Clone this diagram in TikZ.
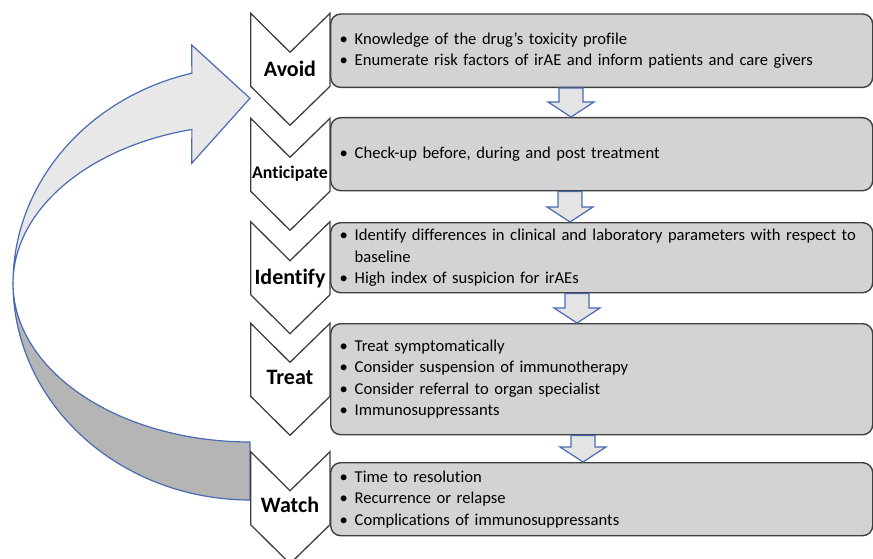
\documentclass[tikz,border=0pt]{standalone}
\usepackage{fontspec}
\setmainfont{Carlito}[Ligatures=NoCommon]
\usetikzlibrary{calc}
\definecolor{boxfill}{HTML}{D3D3D3}
\definecolor{boxline}{HTML}{3F3F3F}
\definecolor{arrline}{HTML}{4A6AB4}
\definecolor{arrfill}{HTML}{E4E4E4}
\definecolor{loopdark}{HTML}{B5B5B5}
\definecolor{looplight}{HTML}{E8E8E8}

% chevron with its label: name, top y, baseline offset, label
\newcommand\chevronstep[4]{%
  \draw[chev] (250.7,#2) -- (290,#2+39) -- (330,#2) -- (330,#2+73)
    -- (290,#2+112) -- (250.7,#2+73) -- cycle;
  \node[steplabel] (#1) at (290,#2+#3) {#4};}

% block arrow between two boxes: from, to, offset from the left edge
\newcommand\flowarrow[3]{%
  \coordinate (fa-s) at ($(#1.south west)+(#3,0)$);
  \coordinate (fa-t) at (fa-s |- #2.north);
  \draw[blockarr] ($(fa-s)+(-12,0)$) -- ($(fa-t)+(-12,-15)$)
    -- ($(fa-t)+(-23,-15)$) -- (fa-t) -- ($(fa-t)+(23,-15)$)
    -- ($(fa-t)+(12,-15)$) -- ($(fa-s)+(12,0)$) -- cycle;}

\newcommand\bul{\makebox[15pt][l]{•}}

\begin{document}
\begin{tikzpicture}[x=1pt,y=-1pt,
  stepbox/.style={draw=boxline, line width=1.4pt, fill=boxfill,
    rounded corners=10pt, anchor=north west, text width=524pt,
    inner xsep=9pt, inner ysep=0pt, align=left,
    font=\fontsize{16.6}{21.5}\selectfont},
  chev/.style={draw=boxline, line width=1.3pt, fill=white, line join=miter},
  steplabel/.style={font=\bfseries\fontsize{22}{24}\selectfont,
    inner sep=0pt, anchor=base},
  blockarr/.style={draw=arrline, line width=1.2pt, fill=arrfill, line join=miter},
  loopband/.style={draw=arrline, line width=1.2pt, line join=miter}]

\useasboundingbox (0,0) rectangle (873,559);

% return loop: back face
\draw[loopband, fill=loopdark]
  plot[domain=180:270, samples=60] ({250+237*cos(\x)},{283.3-216.7*sin(\x)})
  -- (250,442)
  -- plot[domain=270:180, samples=60] ({250+237*cos(\x)},{283.3-158.7*sin(\x)})
  -- cycle;
% return loop: front face with arrow head
\draw[loopband, fill=looplight]
  (191.9,73.2) -- (191.7,45) -- (250,98.3) -- (191.7,163.3) -- (191.9,129.5)
  -- plot[domain=104.2:180, samples=60] ({250+237*cos(\x)},{283.3-158.7*sin(\x)})
  -- plot[domain=180:104.2, samples=60] ({250+237*cos(\x)},{283.3-216.7*sin(\x)})
  -- cycle;

% chevrons
\chevronstep{l1}{13.3}{63}{Avoid}
\chevronstep{l2}{118.3}{60}{\fontsize{17.8}{19}\selectfont Anticipate}
\chevronstep{l3}{221.7}{63}{Identify}
\chevronstep{l4}{323.3}{61}{Treat}
\chevronstep{l5}{451.7}{61}{Watch}

% step boxes
\node[stepbox, minimum height=73.4pt] (b1) at (330,13.3)
  {\bul Knowledge of the drug’s toxicity profile\\
   \bul Enumerate risk factors of irAE and inform patients and care givers};
\node[stepbox, minimum height=73pt] (b2) at (330,117)
  {\bul Check-up before, during and post treatment};
\node[stepbox, minimum height=70pt] (b3) at (330,222)
  {\bul Identify differences in clinical and laboratory parameters with respect to\\
   \hspace*{15pt}baseline\\
   \bul High index of suspicion for irAEs};
\node[stepbox, minimum height=111pt] (b4) at (330,323)
  {\bul Treat symptomatically\\
   \bul Consider suspension of immunotherapy\\
   \bul Consider referral to organ specialist\\
   \bul Immunosuppressants};
\node[stepbox, minimum height=73pt] (b5) at (330,462)
  {\bul Time to resolution\\
   \bul Recurrence or relapse\\
   \bul Complications of immunosuppressants};

% arrows between steps
\flowarrow{b1}{b2}{241}
\flowarrow{b2}{b3}{240}
\flowarrow{b3}{b4}{247}
\flowarrow{b4}{b5}{253}

\end{tikzpicture}
\end{document}
